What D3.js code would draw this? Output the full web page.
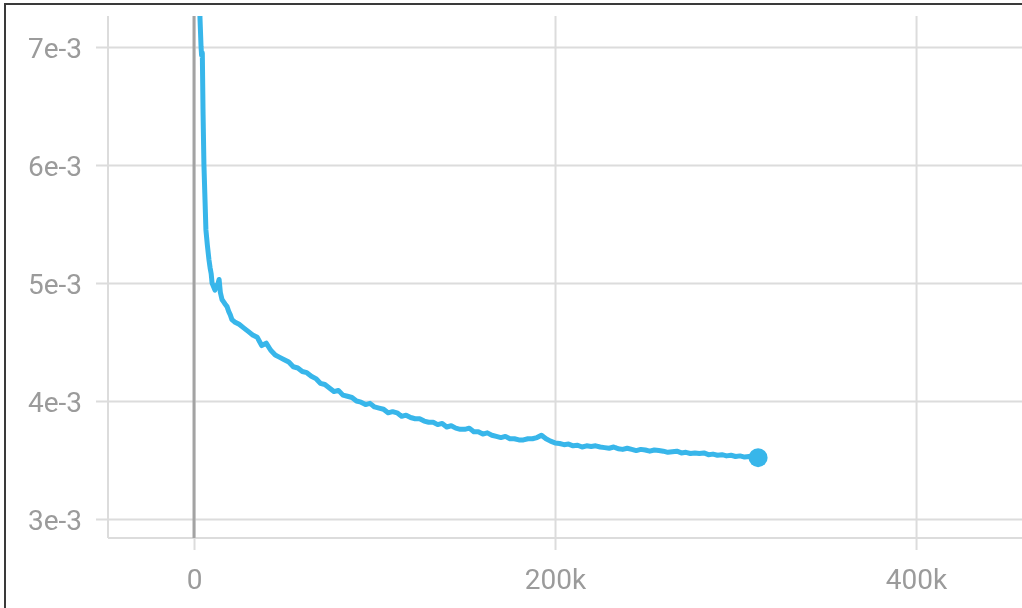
<!DOCTYPE html>
<html>
<head>
<meta charset="utf-8">
<script src="https://cdn.jsdelivr.net/npm/d3@7"></script>
<style>
  html, body { margin: 0; padding: 0; background: #fff; }
  svg { display: block; }
  text { font-family: Roboto, "Noto Sans", sans-serif; }
</style>
</head>
<body>
<div id="chart"></div>
<script>
// loss curve: steps in thousands, values in 1e-3
const steps = [
  2.8, 3.3, 3.9, 4.2, 4.6, 5.0, 5.5, 6.1, 6.6, 7.4, 8.3, 8.9, 9.5, 10.0, 10.8,
  11.6, 12.4, 13.2, 13.9, 14.6, 15.5, 16.4, 17.3, 18.3, 19.2, 20.1, 21.0,
  22.5, 25, 27.5, 30, 32.5, 35, 37.5, 40, 42.5, 45, 47.5, 50, 52.5, 55, 57.5,
  60, 62.5, 65, 67.5, 70, 72.5, 75, 77.5, 80, 82.5, 85, 87.5, 90, 92.5, 95,
  97.5, 100, 102.5, 105, 107.5, 110, 112.5, 115, 117.5, 120, 122.5, 125,
  127.5, 130, 132.5, 135, 137.5, 140, 142.5, 145, 147.5, 150, 152.5, 155,
  157.5, 160, 162.5, 165, 167.5, 170, 172.5, 175, 177.5, 180, 182.5, 185,
  187.5, 190, 192.5, 195, 197.5, 200, 202.5, 205, 207.5, 210, 212.5, 215,
  217.5, 220, 222.5, 225, 227.5, 230, 232.5, 235, 237.5, 240, 242.5, 245,
  247.5, 250, 252.5, 255, 257.5, 260, 262.5, 265, 267.5, 270, 272.5, 275,
  277.5, 280, 282.5, 285, 287.5, 290, 292.5, 295, 297.5, 300, 302.5, 305,
  307.5, 310, 312.5
];
const losses = [
  8.00, 7.25, 7.00, 6.93, 6.95, 6.45, 6.00, 5.70, 5.45, 5.32, 5.195, 5.13, 5.08, 5.00, 4.97,
  4.94, 4.98, 4.99, 5.03, 4.92, 4.86, 4.84, 4.82, 4.80, 4.76, 4.73, 4.69,
  4.67, 4.65, 4.62, 4.59, 4.56, 4.54, 4.47, 4.49, 4.43, 4.39, 4.37, 4.35, 4.33, 4.29, 4.28,
  4.25, 4.24, 4.21, 4.19, 4.15, 4.14, 4.11, 4.08, 4.09, 4.05, 4.04, 4.03, 4.00, 3.99, 3.97,
  3.98, 3.95, 3.94, 3.93, 3.90, 3.91, 3.90, 3.87, 3.88, 3.86, 3.85, 3.85,
  3.83, 3.82, 3.82, 3.80, 3.81, 3.78, 3.79, 3.77, 3.76, 3.76, 3.77, 3.74,
  3.74, 3.72, 3.73, 3.71, 3.70, 3.69, 3.70, 3.68, 3.68, 3.67, 3.67, 3.68,
  3.68, 3.69, 3.71, 3.68, 3.66, 3.645, 3.64, 3.63, 3.635, 3.62, 3.625, 3.61,
  3.62, 3.615, 3.62, 3.61, 3.605, 3.60, 3.61, 3.595, 3.59, 3.60, 3.59, 3.58,
  3.59, 3.585, 3.575, 3.585, 3.58, 3.575, 3.565, 3.57, 3.575, 3.56, 3.565, 3.555,
  3.56, 3.555, 3.56, 3.545, 3.55, 3.54, 3.545, 3.535, 3.54, 3.53, 3.535, 3.525,
  3.53, 3.52, 3.52
];
const yTicks = [3e-3, 4e-3, 5e-3, 6e-3, 7e-3];
const yTickLabels = ["3e-3", "4e-3", "5e-3", "6e-3", "7e-3"];
const xTicks = [0, 200000, 400000];
const xTickLabels = ["0", "200k", "400k"];

const width = 1022, height = 608;
const plotLeft = 108, plotRight = 1022, plotTop = 16, plotBottom = 538;

const data = steps.map((s, i) => ({ step: s * 1000, value: losses[i] / 1000 }));

const x = d3.scaleLinear().domain([-47650, 458700]).range([plotLeft, plotRight]);
const y = d3.scaleLinear().domain([2.839e-3, 7.263e-3]).range([plotBottom, plotTop]);

const svg = d3.select("#chart").append("svg")
    .attr("width", width)
    .attr("height", height);

const defs = svg.append("defs");
defs.append("clipPath").attr("id", "plot")
  .append("rect")
    .attr("x", plotLeft).attr("y", plotTop)
    .attr("width", plotRight - plotLeft).attr("height", plotBottom - plotTop);
// the reference is a soft, slightly blurred screenshot
defs.append("filter").attr("id", "soft")
  .append("feGaussianBlur").attr("stdDeviation", 0.6);

const g = svg.append("g").attr("filter", "url(#soft)");

// horizontal grid + y labels
const gy = g.append("g")
    .attr("transform", `translate(${plotRight},0)`)
    .call(d3.axisLeft(y).tickValues(yTicks).tickSize(plotRight - 96).tickFormat((d, i) => yTickLabels[i]));
gy.select(".domain").remove();
gy.selectAll(".tick line").attr("stroke", "#dcdcdc").attr("stroke-width", 2);
gy.selectAll(".tick text")
    .attr("x", -(plotRight - 82))
    .attr("dy", "0.36em")
    .attr("fill", "#9b9b9b")
    .attr("font-size", 28)
    .attr("text-anchor", "end");

// vertical grid + x labels
const gx = g.append("g")
    .attr("transform", `translate(0,550)`)
    .call(d3.axisTop(x).tickValues(xTicks).tickSize(550 - plotTop).tickFormat((d, i) => xTickLabels[i]));
gx.select(".domain").remove();
gx.selectAll(".tick line").attr("stroke", "#dcdcdc").attr("stroke-width", 2);
gx.selectAll(".tick text")
    .attr("y", 39)
    .attr("dy", 0)
    .attr("fill", "#9b9b9b")
    .attr("font-size", 28)
    .attr("text-anchor", "middle");

// plot frame (left + bottom)
g.append("line")
    .attr("x1", plotLeft).attr("x2", plotLeft).attr("y1", plotTop).attr("y2", plotBottom)
    .attr("stroke", "#dcdcdc").attr("stroke-width", 2);
g.append("line")
    .attr("x1", plotLeft).attr("x2", plotRight).attr("y1", plotBottom).attr("y2", plotBottom)
    .attr("stroke", "#dcdcdc").attr("stroke-width", 2);

// zero line
g.append("line")
    .attr("x1", x(0)).attr("x2", x(0)).attr("y1", plotTop).attr("y2", plotBottom)
    .attr("stroke", "#a3a3a3").attr("stroke-width", 3);

// the series
const line = d3.line().x(d => x(d.step)).y(d => y(d.value));
g.append("path")
    .datum(data)
    .attr("clip-path", "url(#plot)")
    .attr("fill", "none")
    .attr("stroke", "#38b6ea")
    .attr("stroke-width", 5)
    .attr("stroke-linejoin", "round")
    .attr("d", line);

const last = data[data.length - 1];
g.append("circle")
    .attr("cx", x(last.step)).attr("cy", y(last.value))
    .attr("r", 9.5)
    .attr("fill", "#38b6ea");

// outer border of the screenshot
svg.append("rect")
    .attr("x", 5).attr("y", 4)
    .attr("width", 1040).attr("height", 640)
    .attr("fill", "none")
    .attr("stroke", "#3a3a3a")
    .attr("stroke-width", 2);
</script>
</body>
</html>
